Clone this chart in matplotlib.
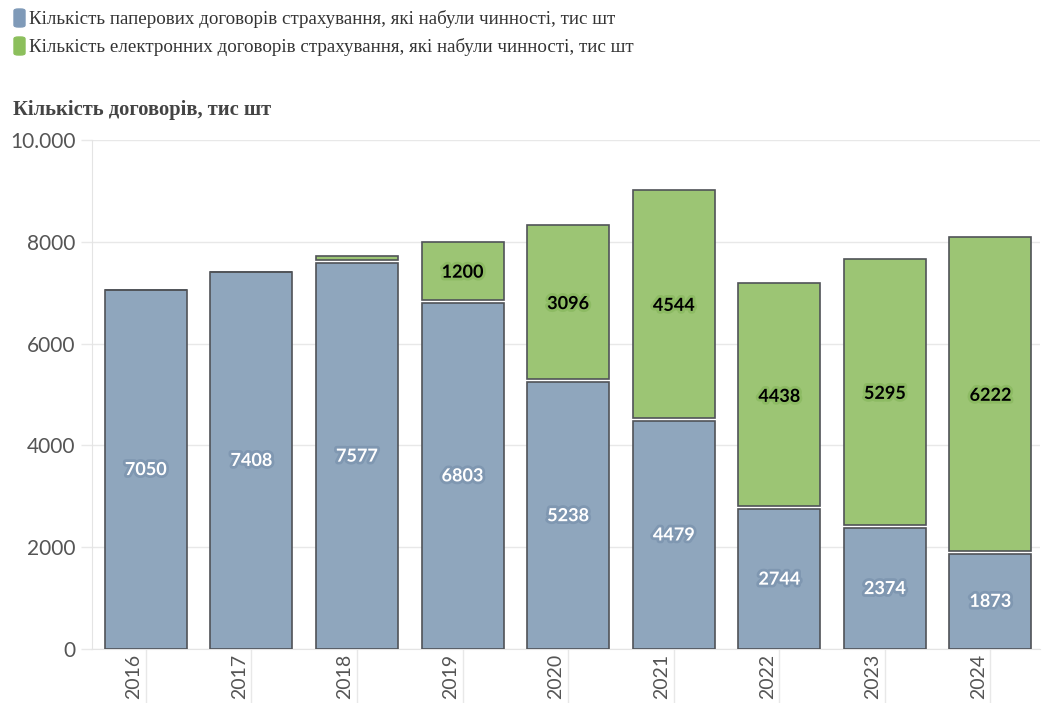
import numpy as np
import matplotlib.pyplot as plt
import matplotlib.patheffects as pe
import matplotlib.transforms as mtransforms
from matplotlib.patches import FancyBboxPatch

years = ['2016', '2017', '2018', '2019', '2020', '2021', '2022', '2023', '2024']
paper = [7050, 7408, 7577, 6803, 5238, 4479, 2744, 2374, 1873]
electronic = [6, 8, 140, 1200, 3096, 4544, 4438, 5295, 6222]
yticks = [0, 2000, 4000, 6000, 8000, 10000]
ytick_labels = ['0', '2000', '4000', '6000', '8000', '10.000']

leg_paper = 'Кількість паперових договорів страхування, які набули чинності, тис шт'
leg_elec = 'Кількість електронних договорів страхування, які набули чинності, тис шт'
title = 'Кількість договорів, тис шт'

blue = '#8fa6bd'
green = '#9cc574'
edge = '#505358'

W, H = 1050, 703
fig = plt.figure(figsize=(W / 100, H / 100), dpi=100)
ax = fig.add_axes([92 / W, 1 - 649 / H, (1040 - 92) / W, (649 - 140) / H])

x = np.arange(len(years))
bw = 0.777
ax.bar(x, paper, width=bw, color=blue, edgecolor=edge, linewidth=1.2, zorder=3)

# small white gap between the stacked segments
gap = np.array([60 if e > 100 else 0 for e in electronic])
elec = np.array(electronic)
ax.bar(x, elec - gap, bottom=np.array(paper) + gap, width=bw, color=green,
       edgecolor=edge, linewidth=1.2, zorder=3)

for i in range(len(years)):
    ax.text(x[i], paper[i] / 2, str(paper[i]), ha='center', va='center',
            fontsize=13, fontweight='bold', family='Lato', color='white', zorder=5,
            path_effects=[pe.withStroke(linewidth=4, foreground='#7f97b1')])
    if electronic[i] >= 1000:
        ax.text(x[i], paper[i] + electronic[i] / 2, str(electronic[i]), ha='center',
                va='center', fontsize=13, fontweight='bold', family='Lato',
                color='black', zorder=5,
                path_effects=[pe.withStroke(linewidth=4, foreground='#8dbb63')])

ax.set_ylim(0, 10000)
ax.set_xlim(-0.51, 8.47)
ax.set_yticks(yticks)
ax.set_yticklabels(ytick_labels, family='Lato', fontsize=15, color='#555555')
ax.set_xticks(x)
ax.set_xticklabels([])
ax.tick_params(axis='x', length=54, color='#e8e8e8', width=1)
ax.tick_params(axis='y', length=8, color='#e8e8e8', width=1, pad=4)

# year labels, rotated, a bit left of the tick line
trans = mtransforms.blended_transform_factory(ax.transData, ax.transAxes)
trans = trans + mtransforms.ScaledTranslation(-12 / 100, -5 / 100, fig.dpi_scale_trans)
for i, yr in enumerate(years):
    ax.text(x[i], 0, yr, rotation=90, ha='center', va='top', transform=trans,
            family='Lato', fontsize=14, color='#555555', clip_on=False)

ax.grid(axis='y', color='#e8e8e8', linewidth=1, zorder=0)
for s in ['top', 'right']:
    ax.spines[s].set_visible(False)
ax.spines['left'].set_color('#e4e4e4')
ax.spines['bottom'].set_color('#e4e4e4')

# legend
for yy, col, txt in [(9, '#7f9ab8', leg_paper), (37, '#8cbf5c', leg_elec)]:
    p = FancyBboxPatch((14 / W, 1 - (yy + 18) / H), 11 / W, 18 / H,
                       boxstyle='round,pad=0,rounding_size=0.004',
                       transform=fig.transFigure, color=col, mutation_aspect=H / W)
    fig.patches.append(p)
    fig.text(29 / W, 1 - (yy + 10) / H, txt, family='Liberation Serif',
             fontsize=13.7, color='#333333', va='center', ha='left')

fig.text(13 / W, 1 - 110 / H, title, family='Liberation Serif', fontsize=14.8,
         fontweight='bold', color='#444444', va='center', ha='left')

fig.savefig('out.png', dpi=100)
